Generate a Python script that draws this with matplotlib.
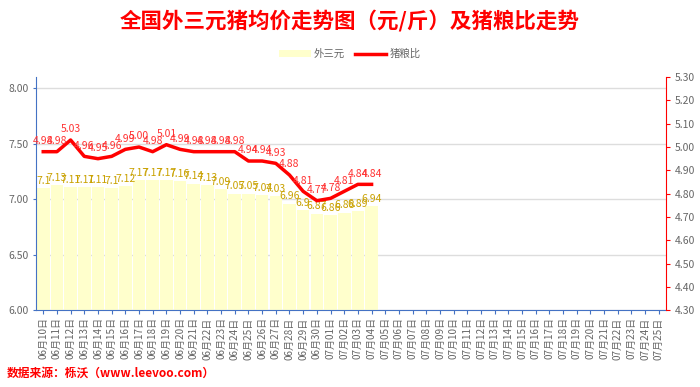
import matplotlib
matplotlib.use("Agg")
import matplotlib.pyplot as plt
from matplotlib.lines import Line2D
from matplotlib.patches import Patch

plt.rcParams['font.family'] = ['Noto Sans CJK SC', 'DejaVu Sans']

# dates 06-10 .. 07-25
dates = ["06月%02d日" % d for d in range(10, 31)] + ["07月%02d日" % d for d in range(1, 26)]

# 外三元 price (元/斤)
price = [7.1, 7.13, 7.11, 7.11, 7.11, 7.1, 7.12, 7.17, 7.17, 7.17, 7.16, 7.14, 7.13,
         7.09, 7.05, 7.05, 7.04, 7.03, 6.96, 6.9, 6.87, 6.86, 6.88, 6.89, 6.94]
# 猪粮比
ratio = [4.98, 4.98, 5.03, 4.96, 4.95, 4.96, 4.99, 5.00, 4.98, 5.01, 4.99, 4.98, 4.98,
         4.98, 4.98, 4.94, 4.94, 4.93, 4.88, 4.81, 4.77, 4.78, 4.81, 4.84, 4.84]

blue = "#4472C4"
red = "#FF0000"
gray = "#666666"

fig = plt.figure(figsize=(7, 3.87), dpi=100)
ax = fig.add_axes([0.052, 0.198, 0.899, 0.603])
ax2 = ax.twinx()

x = list(range(len(dates)))
xs = x[:len(price)]

ax.bar(xs, price, width=0.92, color="#FFFFCC", zorder=2)
for i, v in zip(xs, price):
    lab = "%.2f" % v
    if lab.endswith("0"):
        lab = lab[:-1]
    ax.text(i, v + 0.02, lab, ha="center", va="bottom", fontsize=7.5,
            color="#C9A100", zorder=5)

ax.set_ylim(6.0, 8.1)
ax.set_yticks([6.0, 6.5, 7.0, 7.5, 8.0])
ax.set_yticklabels(["%.2f" % t for t in [6.0, 6.5, 7.0, 7.5, 8.0]], fontsize=7.5, color=gray)
ax.set_xlim(-0.5, len(dates) - 0.5)
ax.set_xticks(x)
ax.set_xticklabels(dates, rotation=90, fontsize=7.2, color=gray)
ax.grid(axis="y", color="#DDDDDD", linewidth=1, zorder=0)
ax.set_axisbelow(True)

ax2.plot(xs, ratio, color=red, linewidth=2.5, zorder=4)
for i, v in zip(xs, ratio):
    ax2.text(i, v + 0.025, "%.2f" % v, ha="center", va="bottom", fontsize=7.5,
             color="#FF3333", zorder=6)
ax2.set_ylim(4.3, 5.3)
ax2.set_yticks([4.3 + 0.1 * k for k in range(11)])
ax2.set_yticklabels(["%.2f" % (4.3 + 0.1 * k) for k in range(11)], fontsize=7.5, color=gray)

for s in ["top"]:
    ax.spines[s].set_visible(False)
    ax2.spines[s].set_visible(False)
ax.spines["left"].set_color(blue)
ax.spines["bottom"].set_color(blue)
ax.spines["right"].set_visible(False)
ax2.spines["left"].set_visible(False)
ax2.spines["bottom"].set_visible(False)
ax2.spines["right"].set_color(red)
ax.tick_params(axis="x", colors=blue, length=3, labelcolor=gray, pad=2)
ax.tick_params(axis="y", colors=blue, length=2, labelcolor=gray)
ax2.tick_params(axis="y", colors=red, length=3, labelcolor=gray)

fig.text(0.5, 0.945, "全国外三元猪均价走势图（元/斤）及猪粮比走势", ha="center", va="center",
         fontsize=15.5, fontweight="bold", color=red)

handles = [Patch(facecolor="#FFFFCC", edgecolor="none"),
           Line2D([0], [0], color=red, linewidth=2.5)]
fig.legend(handles, ["外三元", "猪粮比"], loc="center", bbox_to_anchor=(0.5, 0.86), ncol=2,
           frameon=False, fontsize=7.5, labelcolor=gray, handlelength=3, handletextpad=0.3,
           columnspacing=1.0)

fig.text(0.01, 0.035, "数据来源：栎沃（www.leevoo.com）", ha="left", va="center",
         fontsize=8.5, fontweight="bold", color=red)

fig.savefig("out.png", dpi=100)
